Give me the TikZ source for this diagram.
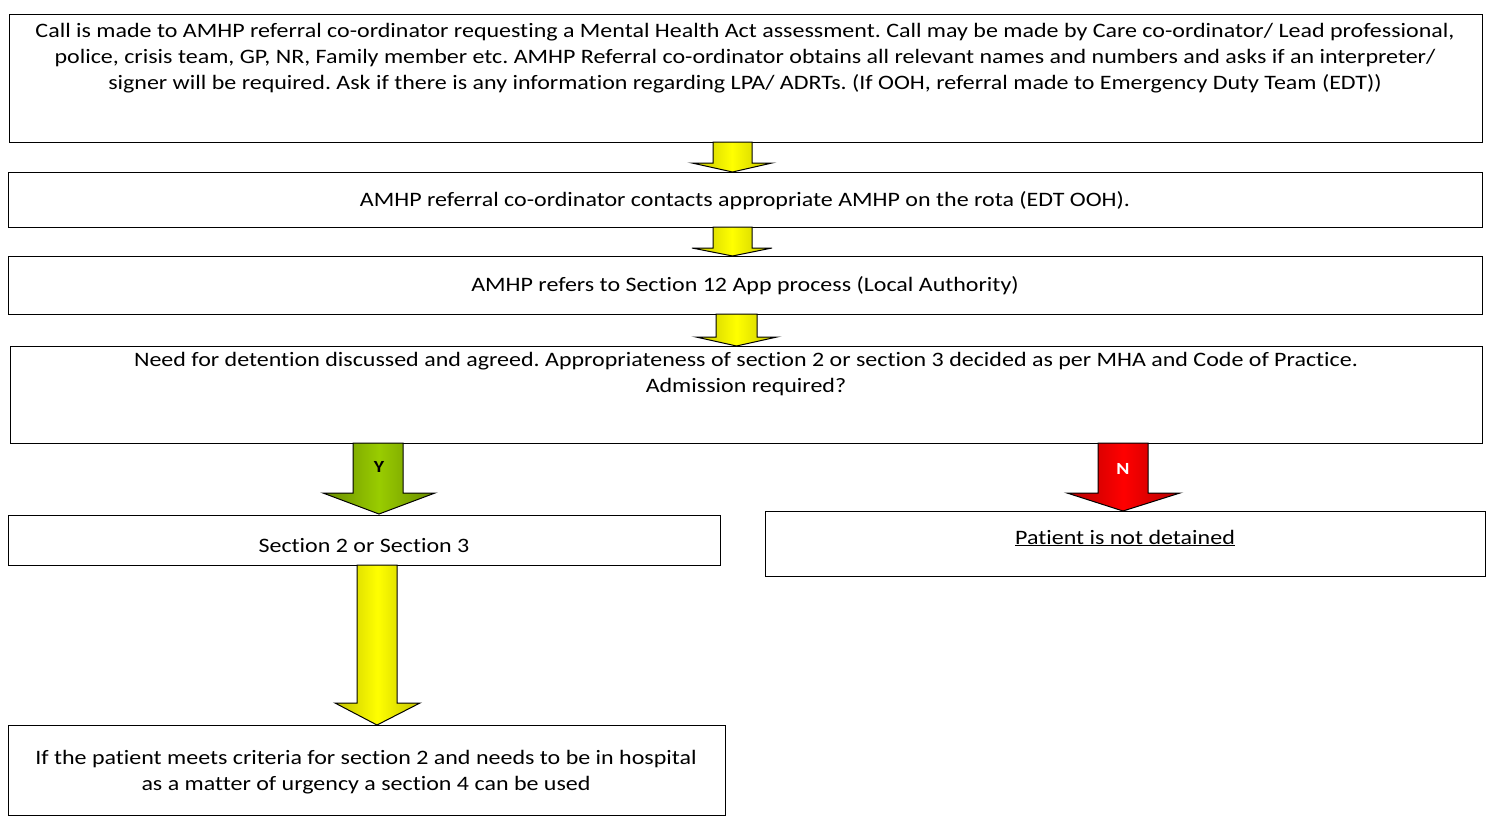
\documentclass[tikz,border=0pt]{standalone}
\usepackage{fontspec}
\setmainfont{Carlito}[FakeStretch=1.17, RawFeature=-liga]
\frenchspacing
\begin{document}
\begin{tikzpicture}[x=1pt,y=-1pt,
  box/.style={draw=black, line width=1.4pt, fill=white, inner sep=0pt, anchor=north west},
  txt/.style={font=\fontsize{20.5}{26}\selectfont, align=center, inner sep=0pt},
  lbl/.style={font=\fontsize{17}{20}\selectfont\bfseries, inner sep=0pt},
  yarrow/.style={draw=black, line width=1pt, left color=yarrowedge, right color=yarrowedge, middle color=yellow},
  garrow/.style={draw=black, line width=1pt, left color=garrowedge, right color=garrowedge, middle color=garrowmid},
  rarrow/.style={draw=black, line width=1pt, left color=rarrowedge, right color=rarrowedge, middle color=red}]
\definecolor{yarrowedge}{RGB}{196,196,0}
\definecolor{garrowedge}{RGB}{104,140,0}
\definecolor{garrowmid}{RGB}{153,204,0}
\definecolor{rarrowedge}{RGB}{180,0,0}
\useasboundingbox (0,0) rectangle (1486,816);

% boxes
\node[box, minimum width=1473pt, minimum height=128pt] (b1) at (9,14) {};
\node[box, minimum width=1474pt, minimum height=55pt] (b2) at (8,172) {};
\node[box, minimum width=1474pt, minimum height=58pt] (b3) at (8,256) {};
\node[box, minimum width=1472pt, minimum height=97pt] (b4) at (10,346) {};
\node[box, minimum width=712pt, minimum height=50pt] (b5) at (8,515) {};
\node[box, minimum width=720pt, minimum height=65pt] (b6) at (765,511) {};
\node[box, minimum width=717pt, minimum height=90pt] (b7) at (8,725) {};

% texts
\node[txt] (t1) at (745,58) {Call is made to AMHP referral co-ordinator requesting a Mental Health Act assessment. Call may be made by Care co-ordinator/ Lead professional,\\
police, crisis team, GP, NR, Family member etc. AMHP Referral co-ordinator obtains all relevant names and numbers and asks if an interpreter/\\
signer will be required. Ask if there is any information regarding LPA/ ADRTs. (If OOH, referral made to Emergency Duty Team (EDT))};
\node[txt] (t2) at (745,201) {AMHP referral co-ordinator contacts appropriate AMHP on the rota (EDT OOH).};
\node[txt] (t3) at (745,286) {AMHP refers to Section 12 App process (Local Authority)};
\node[txt] (t4) at (746,374) {Need for detention discussed and agreed. Appropriateness of section 2 or section 3 decided as per MHA and Code of Practice.\\
Admission required?};
\node[txt] (t5) at (364,546) {Section 2 or Section 3};
\node[txt] (t6) at (1125,538) {\underline{Patient is not detained}};
\node[txt] (t7) at (366,772) {If the patient meets criteria for section 2 and needs to be in hospital\\
as a matter of urgency a section 4 can be used};

% block arrows between the boxes
\path[yarrow] (713,142) -- (752,142) -- (752,163) -- (772,163) -- (732.5,172) -- (692,163) -- (713,163) -- cycle;
\path[yarrow] (713,227) -- (752,227) -- (752,248) -- (772,248) -- (732.5,256) -- (692,248) -- (713,248) -- cycle;
\path[yarrow] (716,314) -- (757,314) -- (757,337) -- (777,337) -- (736.5,346) -- (696,337) -- (716,337) -- cycle;
\path[garrow] (353,443) -- (403,443) -- (403,493) -- (435,493) -- (379,514) -- (323,493) -- (353,493) -- cycle;
\path[rarrow] (1098,443) -- (1148,443) -- (1148,493) -- (1180,493) -- (1123,511) -- (1067,493) -- (1098,493) -- cycle;
\path[yarrow] (357,565) -- (397,565) -- (397,703) -- (420,703) -- (377,725) -- (335,703) -- (357,703) -- cycle;

% arrow labels
\node[lbl] (ly) at (379,467) {Y};
\node[lbl, text=white] (ln) at (1123,469) {N};
\end{tikzpicture}
\end{document}
